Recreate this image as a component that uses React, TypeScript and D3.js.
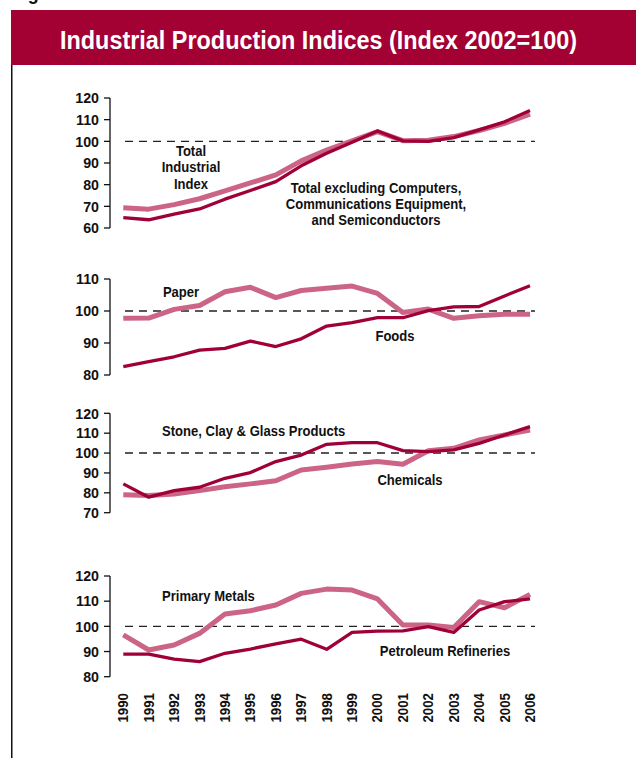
import React from "react";
import * as d3 from "d3";

// Years on the shared x axis
const years = d3.range(1990, 2007);

// Panel 1: total industrial production
const totalIndustrial = [64.8, 63.8, 66.4, 68.8, 73.3, 77.3, 81.4, 88.7, 94.5, 99.6, 104.8, 100.2, 100.0, 101.7, 105.3, 109.0, 114.2];
const totalExclHighTech = [69.4, 68.7, 70.8, 73.5, 77.1, 80.8, 84.5, 91.0, 96.0, 100.2, 104.5, 100.3, 100.5, 102.2, 105.0, 108.3, 112.5];

// Panel 2: paper and foods
const paper = [97.7, 97.8, 100.5, 101.7, 106.0, 107.4, 104.2, 106.4, 107.1, 107.8, 105.5, 99.5, 100.6, 97.7, 98.5, 99.0, 99.0];
const foods = [82.6, 84.2, 85.7, 87.8, 88.3, 90.6, 88.9, 91.3, 95.3, 96.4, 97.9, 97.9, 100.1, 101.3, 101.4, 104.7, 107.9];

// Panel 3: stone/clay/glass and chemicals
const stoneClayGlass = [84.5, 77.8, 81.1, 82.8, 87.3, 90.2, 95.7, 99.0, 104.4, 105.2, 105.2, 101.2, 100.7, 101.6, 104.9, 109.1, 113.3];
const chemicals = [79.0, 78.6, 79.4, 81.1, 83.1, 84.5, 86.1, 91.5, 92.9, 94.5, 95.7, 94.4, 101.2, 102.4, 106.6, 109.1, 111.6];

// Panel 4: primary metals and petroleum refineries
const primaryMetals = [96.6, 90.6, 92.6, 97.2, 104.9, 106.2, 108.5, 113.1, 114.8, 114.4, 110.9, 100.5, 100.5, 99.5, 109.8, 107.4, 112.7];
const petroleumRefineries = [89.0, 89.0, 87.0, 86.0, 89.3, 91.0, 93.0, 94.9, 90.9, 97.6, 98.1, 98.2, 99.9, 97.6, 106.5, 109.8, 110.9];

// Tick values per panel
const ticks1 = [60, 70, 80, 90, 100, 110, 120];
const ticks2 = [80, 90, 100, 110];
const ticks3 = [70, 80, 90, 100, 110, 120];
const ticks4 = [80, 90, 100, 110, 120];

const TITLE = "Industrial Production Indices (Index 2002=100)";

const DARK = "#a0003a";
const LIGHT = "#cc6485";
const HEADER = "#a30034";
const FONT = "'Liberation Sans', Arial, Helvetica, sans-serif";
// horizontal squeeze that gives the bold sans a condensed look
const SQUEEZE = 0.9;

type Label = { lines: string[]; x: number; y: number; anchor: "start" | "middle" | "end" };
type Panel = {
  top: number;
  bottom: number;
  domain: [number, number];
  ticks: number[];
  light: number[];
  dark: number[];
  labels: Label[];
};

const panels: Panel[] = [
  {
    top: 98,
    bottom: 228,
    domain: [60, 120],
    ticks: ticks1,
    light: totalExclHighTech,
    dark: totalIndustrial,
    labels: [
      { lines: ["Total", "Industrial", "Index"], x: 191, y: 156, anchor: "middle" },
      {
        lines: ["Total excluding Computers,", "Communications Equipment,", "and Semiconductors"],
        x: 376,
        y: 192.5,
        anchor: "middle",
      },
    ],
  },
  {
    top: 279,
    bottom: 375,
    domain: [80, 110],
    ticks: ticks2,
    light: paper,
    dark: foods,
    labels: [
      { lines: ["Paper"], x: 181, y: 297, anchor: "middle" },
      { lines: ["Foods"], x: 395, y: 340.5, anchor: "middle" },
    ],
  },
  {
    top: 413.3,
    bottom: 512.7,
    domain: [70, 120],
    ticks: ticks3,
    light: chemicals,
    dark: stoneClayGlass,
    labels: [
      { lines: ["Stone, Clay & Glass Products"], x: 162, y: 436, anchor: "start" },
      { lines: ["Chemicals"], x: 410, y: 485, anchor: "middle" },
    ],
  },
  {
    top: 576,
    bottom: 676.7,
    domain: [80, 120],
    ticks: ticks4,
    light: primaryMetals,
    dark: petroleumRefineries,
    labels: [
      { lines: ["Primary Metals"], x: 162, y: 601, anchor: "start" },
      { lines: ["Petroleum Refineries"], x: 445, y: 655.5, anchor: "middle" },
    ],
  },
];

const x = d3.scaleLinear().domain([1990, 2006]).range([123.3, 530]);
const AXIS_X = 110;

function SqText({
  x,
  y,
  anchor,
  size,
  lines,
  squeeze = SQUEEZE,
  lineHeight = 16.3,
}: {
  x: number;
  y: number;
  anchor: "start" | "middle" | "end";
  size: number;
  lines: string[];
  squeeze?: number;
  lineHeight?: number;
}) {
  return (
    <text
      transform={`translate(${x},${y}) scale(${squeeze},1)`}
      textAnchor={anchor}
      fontSize={size}
      fontWeight="bold"
      fill="#111"
    >
      {lines.map((s, j) => (
        <tspan key={j} x={0} dy={j === 0 ? 0 : lineHeight}>
          {s}
        </tspan>
      ))}
    </text>
  );
}

function PanelView({ p }: { p: Panel }) {
  const y = d3.scaleLinear().domain(p.domain).range([p.bottom, p.top]);
  const line = d3
    .line<number>()
    .x((_, i) => x(years[i]))
    .y((v) => y(v))
    .curve(d3.curveLinear);
  return (
    <g>
      <line x1={AXIS_X} x2={AXIS_X} y1={y(p.domain[1])} y2={y(p.domain[0])} stroke="#111" strokeWidth={1.3} />
      {p.ticks.map((t) => (
        <g key={t}>
          <line x1={AXIS_X - 6} x2={AXIS_X} y1={y(t)} y2={y(t)} stroke="#111" strokeWidth={1.3} />
          <SqText x={AXIS_X - 11} y={y(t) + 5.3} anchor="end" size={15} squeeze={0.95} lines={[String(t)]} />
        </g>
      ))}
      <line
        x1={125}
        x2={535}
        y1={y(100)}
        y2={y(100)}
        stroke="#222"
        strokeWidth={1.4}
        strokeDasharray="8,6"
      />
      <path d={line(p.light) || ""} fill="none" stroke={LIGHT} strokeWidth={5} strokeLinejoin="round" />
      <path d={line(p.dark) || ""} fill="none" stroke={DARK} strokeWidth={3.3} strokeLinejoin="round" />
      {p.labels.map((l, i) => (
        <SqText key={i} x={l.x} y={l.y} anchor={l.anchor} size={14.5} lines={l.lines} />
      ))}
    </g>
  );
}

export default function App() {
  return (
    <svg
      width={636}
      height={758}
      style={{ position: "absolute", left: 0, top: 0, background: "#fff" }}
      fontFamily={FONT}
    >
      <text x={13} y={0} fontSize={20} fontWeight="bold" fill="#111" transform={`scale(${SQUEEZE},1)`}>
        Figure 3
      </text>
      <rect x={11} y={10} width={625} height={55} fill={HEADER} />
      <text
        x={318.5}
        y={48.5}
        textAnchor="middle"
        fontSize={26.5}
        fontWeight="bold"
        fill="#fff"
        textLength={517}
        lengthAdjust="spacingAndGlyphs"
      >
        {TITLE}
      </text>
      <line x1={11.75} x2={11.75} y1={65} y2={758} stroke="#111" strokeWidth={1.5} />
      {panels.map((p, i) => (
        <PanelView key={i} p={p} />
      ))}
      {years.map((yr) => (
        <text
          key={yr}
          transform={`translate(${x(yr) + 5},693) rotate(-90) scale(0.95,1)`}
          textAnchor="end"
          fontSize={14}
          fontWeight="bold"
          fill="#111"
        >
          {yr}
        </text>
      ))}
    </svg>
  );
}
